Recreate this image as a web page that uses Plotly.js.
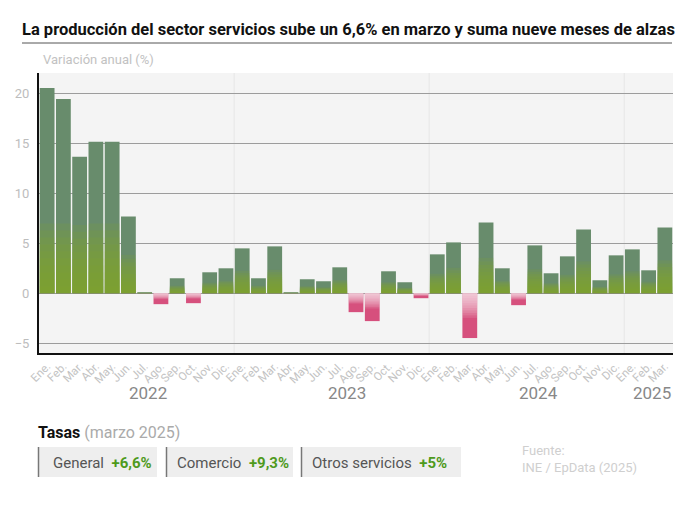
<!DOCTYPE html>
<html>
<head>
<meta charset="utf-8">
<script src="https://cdn.plot.ly/plotly-3.0.1.min.js"></script>
<style>html,body{margin:0;padding:0;background:#fff;}#chart{width:690px;height:509px;}</style>
</head>
<body>
<div id="chart"></div>
<script>
// ---- data ----
const monthLabels = ["Ene.","Feb.","Mar.","Abr.","May.","Jun.","Jul.","Ago.","Sep.","Oct.","Nov.","Dic.",
  "Ene.","Feb.","Mar.","Abr.","May.","Jun.","Jul.","Ago.","Sep.","Oct.","Nov.","Dic.",
  "Ene.","Feb.","Mar.","Abr.","May.","Jun.","Jul.","Ago.","Sep.","Oct.","Nov.","Dic.",
  "Ene.","Feb.","Mar."];
const values = [20.6,19.5,13.7,15.2,15.2,7.7,0.1,-1.1,1.5,-1.0,2.1,2.5,
  4.5,1.5,4.7,0.1,1.4,1.2,2.6,-1.9,-2.8,2.2,1.1,-0.5,
  3.9,5.1,-4.5,7.1,2.5,-1.2,4.8,2.0,3.7,6.4,1.3,3.8,
  4.4,2.3,6.6];
const yearLabels = ["2022","2023","2024","2025"];
const yearPos = [6.2,18.45,30.2,37.2];
const yearBounds = [11.5,23.5,35.5];
const rateNames = ["General","Comercio","Otros servicios"];
const rateValues = ["+6,6%","+9,3%","+5%"];

// ---- layout geometry ----
const W = 690, H = 509, ML = 39, MR = 17, MT = 73, MB = 156;
const PW = W - ML - MR, PH = H - MT - MB;
const xp = px => (px - ML) / PW;
const yp = py => (H - MB - py) / PH;

const idx = values.map((v, i) => i);
const baseColors = values.map(v => v >= 0 ? "#688c6c" : "#d6507d");

const traces = [{
  type: "bar", x: idx, y: values,
  marker: {color: baseColors, line: {width: 0}},
  hoverinfo: "skip"
}];
// gradient overlay layers (styling only, derived from the same values)
const N = 10;
for (let k = 1; k <= N; k++) {
  const f = k / N;
  traces.push({
    type: "bar", x: idx,
    y: values.map(v => v >= 0 ? Math.min(v * 0.5 * f, 7 * f) : v * 0.55 * f),
    marker: {color: values.map(v => v >= 0 ? "rgba(128,168,44,0.17)" : "rgba(255,255,255,0.11)"), line: {width: 0}},
    hoverinfo: "skip"
  });
}

const fontFam = "Roboto, 'Open Sans', sans-serif";
const annotations = [];
yearLabels.forEach((t, i) => annotations.push({
  text: t, x: yearPos[i], xref: "x", y: yp(393), yref: "paper",
  xanchor: "center", yanchor: "middle", showarrow: false,
  font: {size: 17, color: "#888888", family: fontFam}
}));
annotations.push({
  text: "Variación anual (%)", x: xp(41), y: yp(60), xref: "paper", yref: "paper",
  xanchor: "left", yanchor: "middle", showarrow: false,
  font: {size: 13, color: "#c2c2c2", family: fontFam}
});
annotations.push({
  text: "<b>Tasas</b> <span style='color:#aaaaaa'>(marzo 2025)</span>", x: xp(36), y: yp(433), xref: "paper", yref: "paper",
  xanchor: "left", yanchor: "middle", showarrow: false,
  font: {size: 16, color: "#111111", family: fontFam}
});
const boxX0 = [38, 166, 301], boxX1 = [157, 293, 461], textX = [51, 175, 310];
const shapes = [];
rateNames.forEach((n, i) => {
  shapes.push({type: "rect", xref: "paper", yref: "paper", x0: xp(boxX0[i]), x1: xp(boxX1[i]), y0: yp(477), y1: yp(447),
    fillcolor: "#eeeeee", line: {width: 0}, layer: "below"});
  shapes.push({type: "line", xref: "paper", yref: "paper", x0: xp(boxX0[i] + 0.5), x1: xp(boxX0[i] + 0.5), y0: yp(477), y1: yp(447),
    line: {width: 1.5, color: "#777777"}});
  annotations.push({
    text: n + "  <b><span style='color:#4e9a1c'>" + rateValues[i] + "</span></b>",
    x: xp(textX[i]), y: yp(463), xref: "paper", yref: "paper",
    xanchor: "left", yanchor: "middle", showarrow: false,
    font: {size: 15, color: "#555555", family: fontFam}
  });
});
annotations.push({
  text: "Fuente:<br>INE / EpData (2025)", x: xp(520), y: yp(459), xref: "paper", yref: "paper",
  xanchor: "left", yanchor: "middle", align: "left", showarrow: false,
  font: {size: 13, color: "#cfcfcf", family: fontFam}
});
// title underline
shapes.push({type: "line", xref: "paper", yref: "paper", x0: xp(22), x1: xp(672), y0: yp(43), y1: yp(43),
  line: {width: 1, color: "#555555"}});
// year boundary lines
yearBounds.forEach(b => shapes.push({type: "line", xref: "x", yref: "paper", x0: b, x1: b, y0: 0, y1: 1,
  line: {width: 1, color: "#e6e6e6"}, layer: "below"}));

const layout = {
  width: W, height: H,
  margin: {l: ML, r: MR, t: MT, b: MB},
  paper_bgcolor: "#ffffff", plot_bgcolor: "#f4f4f4",
  barmode: "overlay", bargap: 0.09, showlegend: false,
  font: {family: fontFam},
  title: {text: "<b>La producción del sector servicios sube un 6,6% en marzo y suma nueve meses de alzas</b>",
    x: 22 / W, xanchor: "left", xref: "container", y: 1 - 29 / H, yref: "container", yanchor: "middle",
    font: {size: 16.5, color: "#111111", family: fontFam}},
  xaxis: {range: [-0.5, 38.5], tickvals: idx, ticktext: monthLabels, tickangle: -45,
    tickfont: {size: 11.5, color: "#c3c3c3"}, showgrid: false, zeroline: false,
    showline: true, linecolor: "#111111", linewidth: 2, ticks: "", fixedrange: true},
  yaxis: {range: [-6, 22.1], tickvals: [-5, 0, 5, 10, 15, 20], showgrid: true, gridcolor: "#9c9c9c", gridwidth: 1,
    zeroline: true, zerolinecolor: "#9c9c9c", zerolinewidth: 1,
    tickfont: {size: 13, color: "#bdbdbd"}, showline: true, linecolor: "#111111", linewidth: 2, ticks: "",
    ticklabelstandoff: 5, fixedrange: true},
  shapes: shapes, annotations: annotations
};
Plotly.newPlot("chart", traces, layout, {displayModeBar: false, staticPlot: true});
</script>
</body>
</html>
